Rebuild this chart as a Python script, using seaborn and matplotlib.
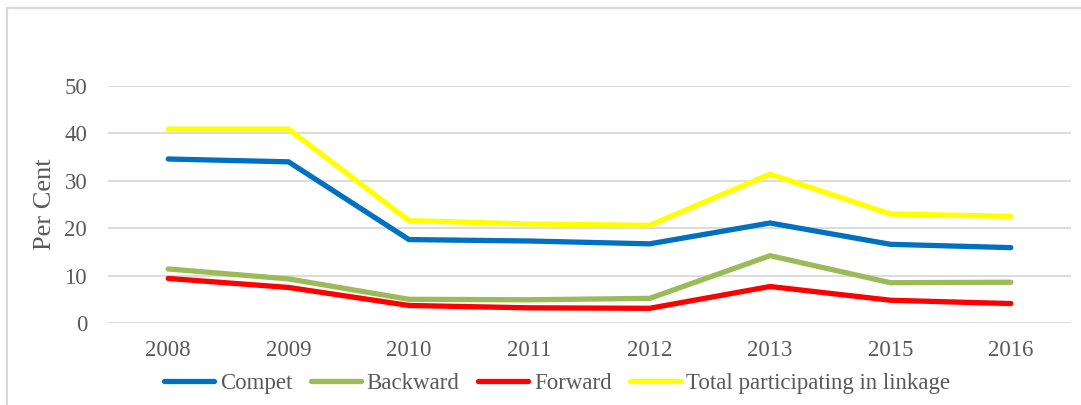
import pandas as pd
import matplotlib
matplotlib.use("Agg")
import matplotlib.pyplot as plt
import seaborn as sns
from matplotlib.lines import Line2D

years = ['2008', '2009', '2010', '2011', '2012', '2013', '2015', '2016']
compet = [34.6, 34.0, 17.6, 17.3, 16.7, 21.1, 16.6, 15.9]
backward = [11.4, 9.3, 5.0, 4.9, 5.2, 14.2, 8.5, 8.6]
forward = [9.4, 7.5, 3.7, 3.2, 3.1, 7.7, 4.8, 4.1]
total = [40.9, 40.9, 21.6, 20.9, 20.6, 31.4, 23.0, 22.5]

series = ['Compet', 'Backward', 'Forward', 'Total participating in linkage']
colors = ['#0070C0', '#9BBB59', '#FF0000', '#FFFF00']

df = pd.DataFrame({
    'year': years * 4,
    'value': compet + backward + forward + total,
    'series': [s for s in series for _ in years],
})

sns.set_style('white')
plt.rcParams['font.family'] = ['Liberation Serif', 'DejaVu Serif']
text_col = '#595959'

fig = plt.figure(figsize=(10.81, 4.05), dpi=100)
ax = fig.add_axes([108 / 1081, (405 - 323) / 405, 963 / 1081, (323 - 86) / 405])

sns.lineplot(data=df, x='year', y='value', hue='series', hue_order=series,
             palette=colors, linewidth=3.8, sort=False, ax=ax, legend=False)
for ln in ax.lines:
    ln.set_solid_capstyle('round')
    ln.set_solid_joinstyle('miter')

ax.set_xlim(-0.5, len(years) - 0.5)
ax.set_ylim(0, 50)
ax.set_yticks(range(0, 51, 10))
ax.grid(axis='y', color='#D9D9D9', linewidth=1.3)
ax.set_axisbelow(True)
for sp in ax.spines.values():
    sp.set_visible(False)
ax.tick_params(axis='both', length=0, labelsize=16.5, colors=text_col)
ax.tick_params(axis='y', pad=15)
ax.tick_params(axis='x', pad=12)
ax.set_xlabel('')
ax.set_ylabel('Per Cent', fontsize=19, color=text_col, labelpad=6)

handles = [Line2D([0], [0], color=c, linewidth=3.8, solid_capstyle='round') for c in colors]
fig.legend(handles, series, loc='center', bbox_to_anchor=(557 / 1081, 1 - 383 / 405),
           ncol=4, frameon=False, fontsize=16.5, handlelength=2.2, handletextpad=0.25,
           columnspacing=0.8, labelcolor=text_col, borderpad=0)

# chart border (left and top edges visible)
fig.add_artist(Line2D([7 / 1081, 7 / 1081], [0, 1 - 8 / 405], color='#D9D9D9', linewidth=1.5))
fig.add_artist(Line2D([7 / 1081, 1], [1 - 8 / 405, 1 - 8 / 405], color='#D9D9D9', linewidth=1.5))

fig.savefig('out.png', dpi=100)
